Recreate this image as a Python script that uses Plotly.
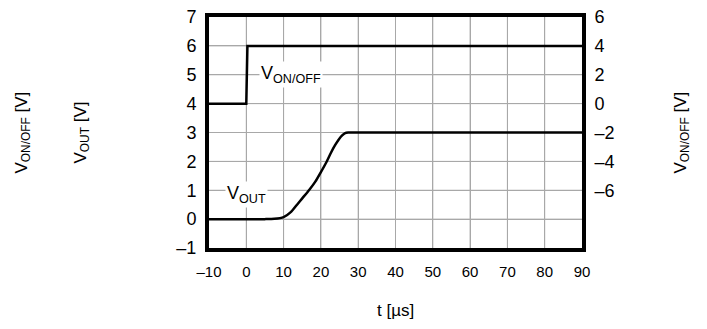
import plotly.graph_objects as go

# time axis, microseconds
t_onoff = [-10, 0, 0.3, 90]
v_onoff = [0, 0, 4, 4]          # read on right axis

t_out = [-10, 5, 7.5, 10, 12, 13.6, 15, 16.8, 18.5, 20, 21.5, 22.7, 23.8, 24.8, 25.7, 26.5, 27.3, 30, 90]
v_out = [0, 0, 0.01, 0.07, 0.25, 0.5, 0.72, 1.0, 1.3, 1.63, 1.98, 2.3, 2.56, 2.76, 2.9, 2.98, 3.0, 3.0, 3.0]

x_ticks = list(range(-10, 91, 10))
y_left_ticks = list(range(-1, 8))
y_right_ticks = [6, 4, 2, 0, -2, -4, -6]

FONT = "Liberation Sans, Arial, sans-serif"
NOTICK = "rgba(0,0,0,0)"
GRID = "#a8a8a8"

# page body has an 8px margin, so the figure is laid out 8px up/left
L, T, R, B = 201, 9, 574, 240
PW, PH = R - L, B - T


def lab(v):
    return ("\u2013" + str(-v)) if v < 0 else str(v)


# grid drawn as a line trace under the curves, built from the tick lists
gx, gy = [], []
for v in x_ticks[1:-1]:
    gx += [v, v, None]
    gy += [y_left_ticks[0], y_left_ticks[-1], None]
for v in y_left_ticks[1:-1]:
    gx += [x_ticks[0], x_ticks[-1], None]
    gy += [v, v, None]

fig = go.Figure()
fig.add_trace(go.Scatter(x=gx, y=gy, mode="lines", line=dict(color=GRID, width=1),
                         hoverinfo="skip", showlegend=False, yaxis="y"))
fig.add_trace(go.Scatter(x=t_out, y=v_out, mode="lines",
                         line=dict(color="black", width=2.5, shape="spline", smoothing=0.6),
                         yaxis="y", showlegend=False))
fig.add_trace(go.Scatter(x=t_onoff, y=v_onoff, mode="lines",
                         line=dict(color="black", width=2.5),
                         yaxis="y2", showlegend=False))

fig.update_layout(
    width=707, height=329,
    margin=dict(l=L, r=707 - R, t=T, b=329 - B, autoexpand=False),
    paper_bgcolor="white", plot_bgcolor="rgba(0,0,0,0)",
    font=dict(family=FONT, color="black"),
    xaxis=dict(range=[-10, 90], tickvals=x_ticks, ticktext=[lab(v) for v in x_ticks],
               showgrid=True, gridcolor=GRID, gridwidth=1, zeroline=False,
               showline=True, linecolor="black", linewidth=4, mirror=True,
               ticks="outside", ticklen=7, tickcolor=NOTICK, ticklabeloverflow="allow",
               tickfont=dict(size=15), automargin=False),
    yaxis=dict(range=[-1, 7], tickvals=y_left_ticks, ticktext=[lab(v) for v in y_left_ticks],
               showgrid=True, gridcolor=GRID, gridwidth=1, zeroline=False,
               showline=True, linecolor="black", linewidth=4, mirror=True,
               ticks="outside", ticklen=5, tickcolor=NOTICK, ticklabeloverflow="allow",
               tickfont=dict(size=18), automargin=False),
    yaxis2=dict(range=[-10, 6], tickvals=y_right_ticks, ticktext=[lab(v) for v in y_right_ticks],
                overlaying="y", side="right", showgrid=False, zeroline=False,
                showline=False, ticks="outside", ticklen=8, tickcolor=NOTICK,
                ticklabeloverflow="allow", tickfont=dict(size=18), automargin=False),
    annotations=[
        dict(x=12, y=5, xref="x", yref="y", text="V<sub>ON/OFF</sub>", showarrow=False,
             bgcolor="white", font=dict(size=18), borderpad=1),
        dict(x=0, y=0.85, xref="x", yref="y", text="V<sub>OUT</sub>", showarrow=False,
             bgcolor="white", font=dict(size=18), borderpad=1),
        dict(x=(14 - L) / PW, y=0.5, xref="paper", yref="paper",
             xanchor="center", yanchor="middle",
             text="V<sub>ON/OFF</sub> [V]", textangle=-90, showarrow=False,
             font=dict(size=17)),
        dict(x=(73 - L) / PW, y=0.5, xref="paper", yref="paper",
             xanchor="center", yanchor="middle",
             text="V<sub>OUT</sub> [V]", textangle=-90, showarrow=False,
             font=dict(size=17)),
        dict(x=(673 - L) / PW, y=0.5, xref="paper", yref="paper",
             xanchor="center", yanchor="middle",
             text="V<sub>ON/OFF</sub> [V]", textangle=-90, showarrow=False,
             font=dict(size=17)),
        dict(x=0.5, y=-(302 - B) / PH, xref="paper", yref="paper",
             xanchor="center", yanchor="middle",
             text="t [µs]", showarrow=False, font=dict(size=17)),
    ],
)

fig.write_html("out.html")
